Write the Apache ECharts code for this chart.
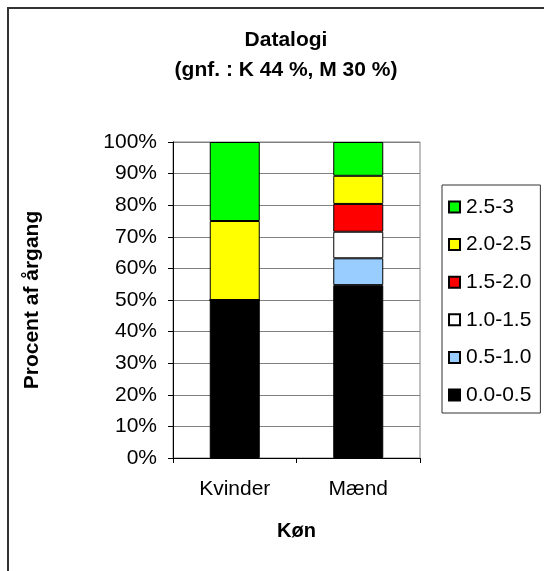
<!DOCTYPE html>
<html>
<head>
<meta charset="utf-8">
<style>
  html, body { margin: 0; padding: 0; background: #fff; }
  #chart { width: 544px; height: 571px; }
</style>
<script src="https://cdn.jsdelivr.net/npm/echarts@6/dist/echarts.min.js"></script>
</head>
<body>
<div id="chart"></div>
<script>
// Categories on the x axis
const categories = ['Kvinder', 'Mænd'];

// Grade bands, bottom of the stack first
const bands = ['0.0-0.5', '0.5-1.0', '1.0-1.5', '1.5-2.0', '2.0-2.5', '2.5-3'];
const bandColors = ['#000000', '#99CCFF', '#FFFFFF', '#FF0000', '#FFFF00', '#00FF00'];

// Share of the year group (%) per band: [Kvinder, Mænd]
const band00_05 = [50, 54.7];
const band05_10 = [0, 8.5];
const band10_15 = [0, 8.4];
const band15_20 = [0, 8.8];
const band20_25 = [25, 8.9];
const band25_30 = [25, 10.7];
const bandValues = [band00_05, band05_10, band10_15, band15_20, band20_25, band25_30];

// Tick values on the y axis
const yMin = 0, yMax = 100, yStep = 10;

const titleLines = ['Datalogi', '(gnf. : K 44 %, M 30 %)'];
const yName = 'Procent af årgang';
const xName = 'Køn';

const FONT = 'Liberation Sans, Arial, sans-serif';
const FS = 21;

const chart = echarts.init(document.getElementById('chart'), null, { renderer: 'canvas' });

const series = bands.map((name, i) => ({
  name: name,
  type: 'bar',
  stack: 'total',
  barWidth: 50,
  data: bandValues[i],
  itemStyle: { color: bandColors[i], borderColor: '#000', borderWidth: 1 },
  emphasis: { disabled: true }
}));

chart.setOption({
  animation: false,
  backgroundColor: '#fff',
  textStyle: { fontFamily: FONT, color: '#000' },
  graphic: [
    {
      type: 'rect',
      shape: { x: 8, y: 8, width: 700, height: 700 },
      style: { fill: 'none', stroke: '#333', lineWidth: 2 },
      silent: true
    },
    {
      type: 'text',
      silent: true,
      style: {
        text: titleLines[0],
        x: 286, y: 40,
        align: 'center', verticalAlign: 'middle',
        font: 'bold 21px ' + FONT, fill: '#000'
      }
    },
    {
      type: 'text',
      silent: true,
      style: {
        text: titleLines[1],
        x: 286, y: 70,
        align: 'center', verticalAlign: 'middle',
        font: 'bold 21px ' + FONT, fill: '#000'
      }
    }
  ],
  grid: {
    left: 173, top: 142, width: 247, height: 316,
    show: true, borderColor: '#808080', borderWidth: 1, backgroundColor: 'transparent'
  },
  legend: {
    orient: 'vertical',
    left: 442, top: 185,
    data: bands.slice().reverse(),
    icon: 'rect',
    itemWidth: 11, itemHeight: 11,
    itemGap: 16.6,
    padding: [11.5, 9, 7.5, 6],
    borderColor: '#333', borderWidth: 1,
    selectedMode: false,
    textStyle: { fontFamily: FONT, fontSize: FS, color: '#000', padding: [0, 0, 0, 1] }
  },
  xAxis: {
    type: 'category',
    data: categories,
    name: xName,
    nameLocation: 'middle',
    nameGap: 63,
    nameTextStyle: { fontFamily: FONT, fontSize: 20, fontWeight: 'bold', color: '#000' },
    axisLine: { lineStyle: { color: '#000', width: 1 } },
    axisTick: { show: true, alignWithLabel: false, length: 5, lineStyle: { color: '#000' } },
    axisLabel: { fontFamily: FONT, fontSize: FS, color: '#000', margin: 21 },
    splitLine: { show: false }
  },
  yAxis: {
    type: 'value',
    min: yMin, max: yMax, interval: yStep,
    name: yName,
    nameLocation: 'middle',
    nameGap: 130,
    nameRotate: 90,
    nameTextStyle: { fontFamily: FONT, fontSize: 21, fontWeight: 'bold', color: '#000' },
    axisLine: { show: true, lineStyle: { color: '#000', width: 1 } },
    axisTick: { show: true, length: 5, lineStyle: { color: '#000' } },
    axisLabel: { fontFamily: FONT, fontSize: FS, color: '#000', margin: 16, formatter: '{value}%' },
    splitLine: { show: true, lineStyle: { color: '#808080', width: 1 } }
  },
  series: series
});
</script>
</body>
</html>
